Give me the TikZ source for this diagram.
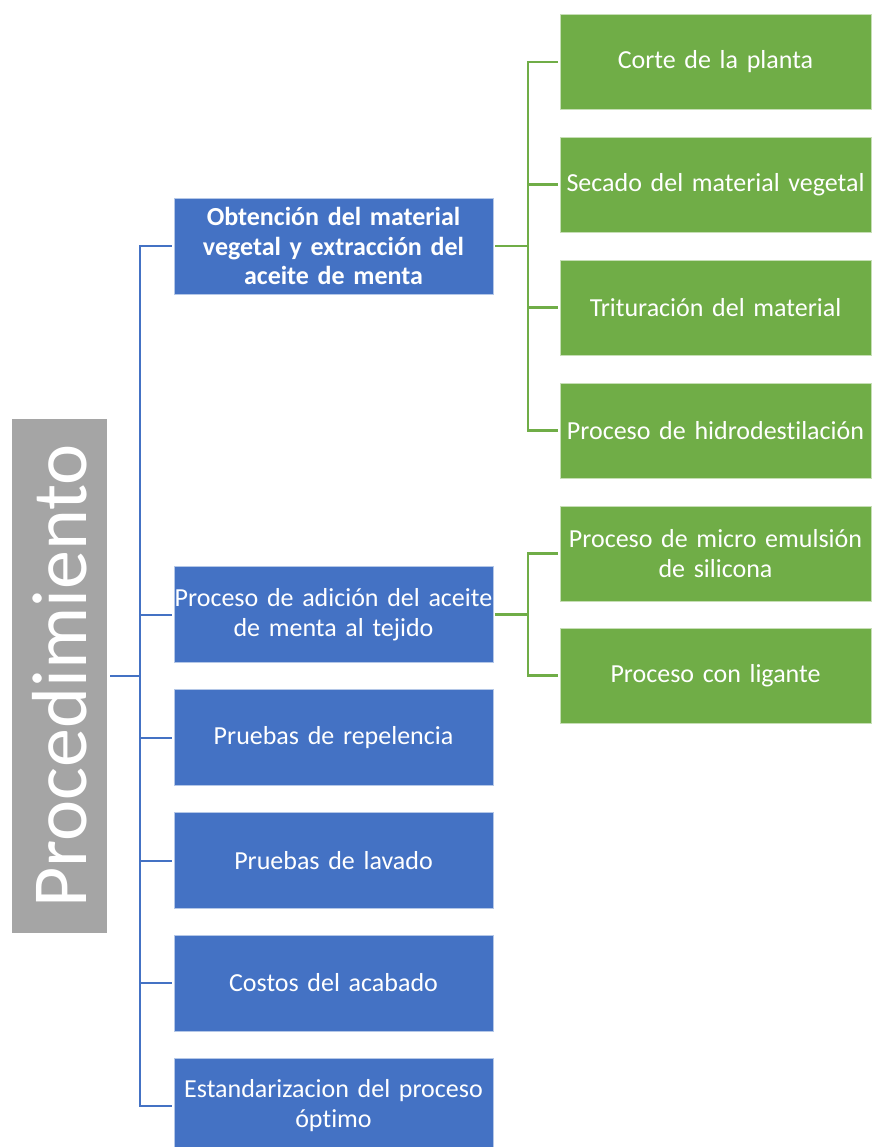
\documentclass[tikz,border=0pt]{standalone}
\usepackage{fontspec}
\setmainfont{Carlito}[Ligatures=NoCommon]
\usepackage{xcolor}
\definecolor{boxblue}{HTML}{4472C4}
\definecolor{boxgreen}{HTML}{70AD47}
\definecolor{boxgray}{HTML}{A5A5A5}

\begin{document}
\begin{tikzpicture}[x=1pt, y=-1pt,
  bluebox/.style={fill=boxblue, draw=white!60!boxblue, line width=0.6pt, text=white,
    minimum width=319pt, minimum height=96pt, text width=319pt, align=center,
    inner sep=0pt, font=\fontsize{26}{30}\selectfont},
  greenbox/.style={fill=boxgreen, draw=white!60!boxgreen, line width=0.6pt, text=white,
    minimum width=311pt, minimum height=95pt, text width=311pt, align=center,
    inner sep=0pt, font=\fontsize{26}{30}\selectfont},
  bluelink/.style={draw=boxblue, line width=2pt},
  greenlink/.style={draw=boxgreen, line width=2.2pt}]

\useasboundingbox (0,0) rectangle (871,1147);

\node[fill=boxgray, minimum width=95pt, minimum height=514pt, inner sep=0pt] (proc) at (59.5,676) {};
\node[rotate=90, text=white, font=\fontsize{78}{78}\selectfont] (proctext) at (proc.center) {Procedimiento};

\node[bluebox, font=\fontsize{26}{29.5}\selectfont\bfseries] (b1) at (333.5,246)
  {Obtención del material\\ vegetal y extracción del\\ aceite de menta};
\node[bluebox] (b2) at (333.5,614.5) {Proceso de adición del aceite\\ de menta al tejido};
\node[bluebox] (b3) at (333.5,737.5) {Pruebas de repelencia};
\node[bluebox] (b4) at (333.5,860.5) {Pruebas de lavado};
\node[bluebox] (b5) at (333.5,983) {Costos del acabado};
\node[bluebox] (b6) at (333.5,1106) {Estandarizacion del proceso\\ óptimo};

\node[greenbox] (g1) at (715.5,62) {Corte de la planta};
\node[greenbox] (g2) at (715.5,184.5) {Secado del material vegetal};
\node[greenbox] (g3) at (715.5,307.5) {Trituración del material};
\node[greenbox] (g4) at (715.5,430.5) {Proceso de hidrodestilación};
\node[greenbox] (g5) at (715.5,553.5) {Proceso de micro emulsión\\ de silicona};
\node[greenbox] (g6) at (715.5,675.5) {Proceso con ligante};

\coordinate (hub) at (140,676);
\coordinate (ghub1) at (528,246);
\coordinate (ghub2) at (528,614.5);

\draw[bluelink, shorten <=3pt] (proc.east) -- (hub);
\foreach \b in {b1,b2,b3,b4,b5,b6}
  \draw[bluelink, shorten >=2pt] (hub) |- (\b.west);

\draw[greenlink, shorten <=2pt] (b1.east) -- (ghub1);
\foreach \g in {g1,g2,g3,g4}
  \draw[greenlink, shorten >=2pt] (ghub1) |- (\g.west);

\draw[greenlink, shorten <=2pt] (b2.east) -- (ghub2);
\foreach \g in {g5,g6}
  \draw[greenlink, shorten >=2pt] (ghub2) |- (\g.west);

\end{tikzpicture}
\end{document}
